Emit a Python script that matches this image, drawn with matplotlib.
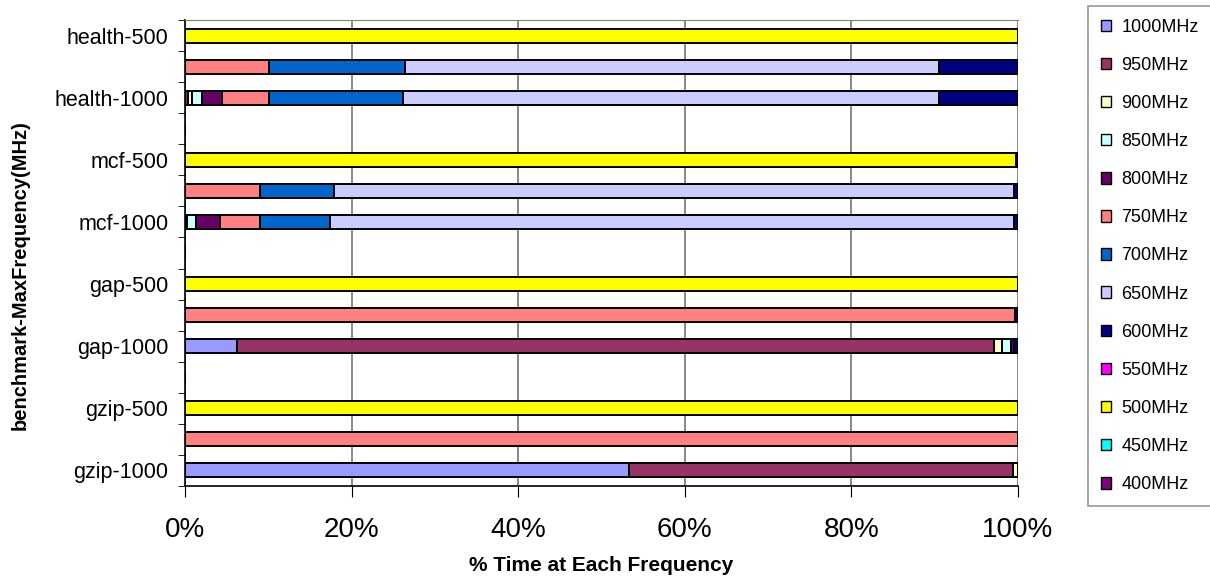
import numpy as np
import matplotlib.pyplot as plt
from matplotlib.ticker import PercentFormatter

plt.rcParams['font.family'] = ['Liberation Sans', 'DejaVu Sans']

# rows from bottom to top; empty strings are spacer rows between benchmarks
rows = ["gzip-1000", "gzip-750", "gzip-500", "",
        "gap-1000", "gap-750", "gap-500", "",
        "mcf-1000", "mcf-750", "mcf-500", "",
        "health-1000", "health-750", "health-500"]

freqs = ["1000MHz", "950MHz", "900MHz", "850MHz", "800MHz", "750MHz", "700MHz",
         "650MHz", "600MHz", "550MHz", "500MHz", "450MHz", "400MHz"]

colors = ["#9999FF", "#993366", "#FFFFCC", "#CCFFFF", "#660066", "#FF8080", "#0066CC",
          "#CCCCFF", "#000080", "#FF00FF", "#FFFF00", "#00FFFF", "#800080"]

# % of time at each frequency, one list per frequency, following rows order
share = {
    "1000MHz": [53.3, 0, 0, 0, 6.2, 0, 0, 0, 0, 0, 0, 0, 0, 0, 0],
    "950MHz":  [46.1, 0, 0, 0, 90.9, 0, 0, 0, 0.2, 0, 0, 0, 0.4, 0, 0],
    "900MHz":  [0.6, 0, 0, 0, 1.0, 0, 0, 0, 0, 0, 0, 0, 0.5, 0, 0],
    "850MHz":  [0, 0, 0, 0, 1.0, 0, 0, 0, 1.1, 0, 0, 0, 1.2, 0, 0],
    "800MHz":  [0, 0, 0, 0, 0.4, 0, 0, 0, 2.9, 0, 0, 0, 2.4, 0, 0],
    "750MHz":  [0, 100, 0, 0, 0, 99.6, 0, 0, 4.8, 9.0, 0, 0, 5.6, 10.1, 0],
    "700MHz":  [0, 0, 0, 0, 0, 0, 0, 0, 8.4, 8.9, 0, 0, 16.1, 16.3, 0],
    "650MHz":  [0, 0, 0, 0, 0, 0, 0, 0, 82.1, 81.6, 0, 0, 64.3, 64.1, 0],
    "600MHz":  [0, 0, 0, 0, 0.5, 0.4, 0, 0, 0.5, 0.5, 0, 0, 9.5, 9.5, 0],
    "550MHz":  [0] * 15,
    "500MHz":  [0, 0, 100, 0, 0, 0, 100, 0, 0, 0, 99.7, 0, 0, 0, 100],
    "450MHz":  [0] * 15,
    "400MHz":  [0, 0, 0, 0, 0, 0, 0, 0, 0, 0, 0.3, 0, 0, 0, 0],
}

fig = plt.figure(figsize=(12.1, 5.81), dpi=100)
ax = fig.add_axes([185 / 1210, 1 - 486 / 581, 833 / 1210, 466 / 581])

y = np.arange(len(rows))
left = np.zeros(len(rows))
for f, c in zip(freqs, colors):
    vals = np.array(share[f], dtype=float)
    ax.barh(y, vals, left=left, height=0.45, color=c, edgecolor="black",
            linewidth=1.4, label=f, zorder=3)
    left += vals

ax.set_xlim(0, 100)
ax.set_ylim(-0.5, len(rows) - 0.5)
ax.xaxis.set_major_formatter(PercentFormatter(decimals=0))
ax.set_xticks(np.arange(0, 101, 20))
ax.tick_params(axis="x", labelsize=20, length=8, direction="out", pad=14)
ax.grid(axis="x", color="#808080", linewidth=1.3, zorder=0)

# every other row gets a label, ticks sit on the row boundaries
ax.set_yticks(y[::2])
ax.set_yticklabels([rows[i] for i in y[::2]], fontsize=15.5)
ax.tick_params(axis="y", which="major", length=0, pad=12)
ax.set_yticks(np.arange(-0.5, len(rows), 1), minor=True)
ax.tick_params(axis="y", which="minor", length=5, direction="out")

ax.spines["top"].set_color("#808080")
ax.spines["right"].set_visible(False)
for s in ("left", "bottom"):
    ax.spines[s].set_linewidth(1.2)

ax.set_xlabel("% Time at Each Frequency", fontsize=15, fontweight="bold")
ax.xaxis.set_label_coords(0.5, -0.150)
ax.set_ylabel("benchmark-MaxFrequency(MHz)", fontsize=14.5, fontweight="bold")
ax.yaxis.set_label_coords(-0.186, 0.453)

leg = fig.legend(loc="upper left", bbox_to_anchor=(1088 / 1210, 1 - 6 / 581),
                 fontsize=13, handlelength=0.6, handleheight=0.6, handletextpad=0.55,
                 labelspacing=1.17, borderaxespad=0, frameon=True, fancybox=False,
                 borderpad=0.7)
leg.get_frame().set_edgecolor("#808080")
leg.get_frame().set_linewidth(1.2)
for h in leg.legend_handles:
    h.set_linewidth(1.0)

fig.savefig("out.png", dpi=100)
